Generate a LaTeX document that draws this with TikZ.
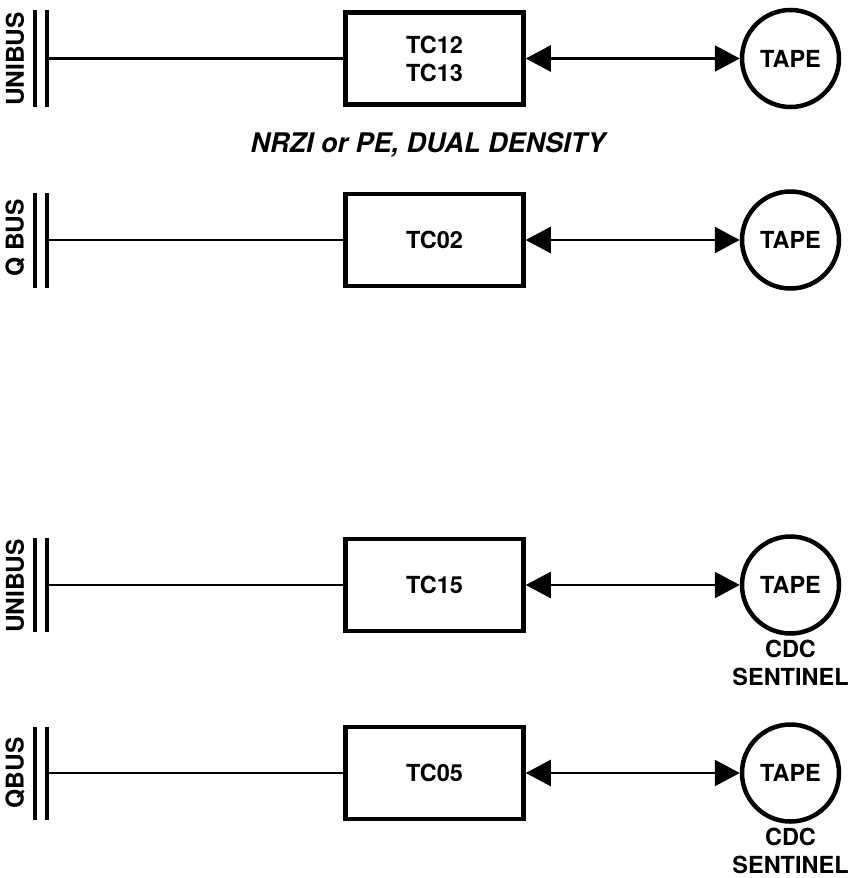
\documentclass[tikz,border=0pt]{standalone}
\usepackage{fontspec}
\setmainfont{TeX Gyre Heros}
\usepackage{tikz}
\usetikzlibrary{arrows.meta,positioning}
\newcommand\tcfont{\fontsize{23.5}{28}\selectfont\bfseries}
\newcommand\busfont{\fontsize{24.5}{26}\selectfont\bfseries}
\newcommand\notefont{\fontsize{27}{30}\selectfont\bfseries\itshape}

\begin{document}
\begin{tikzpicture}[
    x=1pt, y=-1pt,
    node distance=214pt,
    ctrl/.style={draw, line width=4.5pt, minimum width=178pt,
                 minimum height=92pt, inner sep=0pt, align=center, font=\tcfont},
    tape/.style={circle, draw, line width=4.5pt, minimum size=97pt,
                 inner sep=0pt, font=\tcfont},
    busbar/.style={line width=4.5pt},
    wire/.style={line width=2.5pt},
    link/.style={{Triangle[length=25pt,width=26pt]}-{Triangle[length=25pt,width=26pt]},
                 line width=2.5pt},
    buslbl/.style={rotate=90, font=\busfont, inner sep=0pt},
    drive/.style={font=\tcfont, align=center, inner sep=0pt},
  ]
  \useasboundingbox (0,0) rectangle (862,878);

  % upper pair
  \node[ctrl] (tc12) at (434.5,58.5) {TC12\\TC13};
  \node[tape, right=of tc12] (tapeA) {TAPE};
  \node[ctrl] (tc02) at (434.5,240) {TC02};
  \node[tape, right=of tc02] (tapeB) {TAPE};
  \node[font=\notefont, inner sep=0pt] (dens) at (428,145) {NRZI or PE, DUAL DENSITY};

  % lower pair
  \node[ctrl] (tc15) at (434.5,585) {TC15};
  \node[tape, right=of tc15] (tapeC) {TAPE};
  \node[drive, below=4pt of tapeC] (cdcC) {CDC\\SENTINEL};
  \node[ctrl] (tc05) at (434.5,773) {TC05};
  \node[tape, right=of tc05] (tapeD) {TAPE};
  \node[drive, below=4pt of tapeD] (cdcD) {CDC\\SENTINEL};

  % bus bars
  \draw[busbar] (35,10) -- (35,107);  \draw[busbar] (47,10) -- (47,107);
  \draw[busbar] (35,193) -- (35,288); \draw[busbar] (47,193) -- (47,288);
  \draw[busbar] (35,538) -- (35,632); \draw[busbar] (47,538) -- (47,632);
  \draw[busbar] (35,727) -- (35,820); \draw[busbar] (47,727) -- (47,820);
  \node[buslbl] (ubA) at (15,59) {UNIBUS};
  \node[buslbl] (qbA) at (15,238) {Q BUS};
  \node[buslbl] (ubB) at (15,586) {UNIBUS};
  \node[buslbl] (qbB) at (15,773) {QBUS};
  \coordinate (tapA) at (47,58.5);
  \coordinate (tapB) at (47,240);
  \coordinate (tapC) at (47,585);
  \coordinate (tapD) at (47,773);

  \draw[wire] (tapA) -- (tc12);
  \draw[wire] (tapB) -- (tc02);
  \draw[wire] (tapC) -- (tc15);
  \draw[wire] (tapD) -- (tc05);
  \draw[link] (tc12) -- (tapeA);
  \draw[link] (tc02) -- (tapeB);
  \draw[link] (tc15) -- (tapeC);
  \draw[link] (tc05) -- (tapeD);
\end{tikzpicture}
\end{document}
